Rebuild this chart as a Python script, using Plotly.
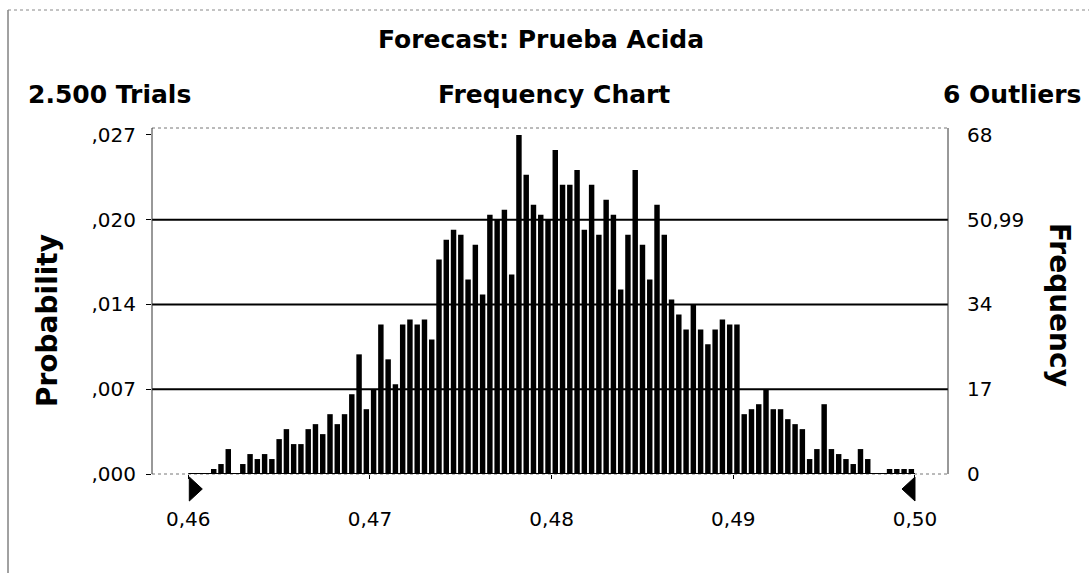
import plotly.graph_objects as go

# ---------------- data ----------------
TRIALS_LABEL = "2.500 Trials"
OUTLIERS_LABEL = "6 Outliers"
TITLE = "Forecast: Prueba Acida"
SUBTITLE = "Frequency Chart"

bin_start = 0.46
bin_width = 0.0004
frequencies = [
    0, 0, 0,
    1, 2, 5, 0, 2, 4, 3, 4, 3, 7,
    9, 6, 6, 9, 10, 8, 12, 10, 12, 16,
    24, 13, 17, 30, 23, 18, 30, 31, 30, 31,
    27, 43, 47, 49, 48, 39, 46, 36, 52, 51,
    53, 40, 68, 60, 54, 52, 51, 65, 58, 58,
    61, 49, 58, 48, 55, 52, 37, 48, 61, 46,
    39, 54, 48, 35, 32, 29, 34, 29, 26, 29,
    31, 30, 30, 12, 13, 14, 17, 13, 13, 11,
    10, 9, 3, 5, 14, 5, 4, 3, 2, 5,
    3, 0, 0, 1, 1, 1, 1,
]
x_tick_vals = [0.46, 0.47, 0.48, 0.49, 0.50]
x_tick_text = ["0,46", "0,47", "0,48", "0,49", "0,50"]
freq_tick_vals = [0, 17, 34, 51, 68]
prob_tick_text = [",000", ",007", ",014", ",020", ",027"]
freq_tick_text = ["0", "17", "34", "50,99", "68"]
range_min, range_max = 0.46, 0.50

x_centers = [bin_start + bin_width * (i + 0.5) for i in range(len(frequencies))]

# ---------------- layout geometry ----------------
W, H = 1089, 573
ML, MR, MT, MB = 152, 141, 128, 99
PW, PH = W - ML - MR, H - MT - MB
X_RANGE = [0.458002, 0.501817]
Y_RANGE = [0, 69.4]
FONT = "DejaVu Sans"


def px(p):
    return (p - ML) / PW


def py(q):
    return (H - MB - q) / PH


fig = go.Figure()
fig.add_trace(go.Bar(
    x=x_centers, y=frequencies, marker_color="black", marker_line_width=0,
    width=bin_width * 0.75, hoverinfo="x+y", showlegend=False,
))
fig.add_trace(go.Scatter(
    x=[x_centers[0]], y=[0], yaxis="y2", mode="markers",
    marker=dict(opacity=0), hoverinfo="skip", showlegend=False,
))

shapes = []
# gridlines
for v in freq_tick_vals[1:-1]:
    shapes.append(dict(type="line", xref="paper", yref="y", x0=0, x1=1, y0=v, y1=v,
                       line=dict(color="black", width=2), layer="above"))
# plot frame
shapes.append(dict(type="line", xref="paper", yref="paper", x0=0, x1=1, y0=1, y1=1,
                   line=dict(color="#777", width=1, dash="dot")))
shapes.append(dict(type="line", xref="paper", yref="paper", x0=0, x1=1, y0=0, y1=0,
                   line=dict(color="#777", width=1, dash="dot")))
shapes.append(dict(type="line", xref="paper", yref="paper", x0=0, x1=0, y0=0, y1=1,
                   line=dict(color="#333", width=1)))
shapes.append(dict(type="line", xref="paper", yref="paper", x0=1, x1=1, y0=0, y1=1,
                   line=dict(color="#333", width=1)))
# baseline over the bin range
shapes.append(dict(type="line", xref="x", yref="y", x0=range_min, x1=range_max, y0=0, y1=0,
                   line=dict(color="black", width=2), layer="above"))
# range triangles
fmin = (range_min - X_RANGE[0]) / (X_RANGE[1] - X_RANGE[0])
fmax = (range_max - X_RANGE[0]) / (X_RANGE[1] - X_RANGE[0])
shapes.append(dict(type="path", xref="x domain", yref="y domain", xsizemode="pixel",
                   ysizemode="pixel", xanchor=fmin, yanchor=0,
                   path="M 1 -3 L 1 -27 L 14 -15 Z", fillcolor="black",
                   line=dict(color="black", width=1)))
shapes.append(dict(type="path", xref="x domain", yref="y domain", xsizemode="pixel",
                   ysizemode="pixel", xanchor=fmax, yanchor=0,
                   path="M 0 -3 L 0 -27 L -13 -15 Z", fillcolor="black",
                   line=dict(color="black", width=1)))
# outer page border
shapes.append(dict(type="line", xref="paper", yref="paper", x0=px(8), x1=px(8),
                   y0=py(10), y1=py(573), line=dict(color="#444", width=1)))
shapes.append(dict(type="line", xref="paper", yref="paper", x0=px(8), x1=px(1089),
                   y0=py(10), y1=py(10), line=dict(color="#888", width=1, dash="dot")))

annotations = [
    dict(text="<b>" + TITLE + "</b>", x=px(541), y=py(40), font=dict(size=25)),
    dict(text="<b>" + TRIALS_LABEL + "</b>", x=px(26), y=py(94), xanchor="left",
         font=dict(size=25)),
    dict(text="<b>" + SUBTITLE + "</b>", x=px(554), y=py(94), font=dict(size=25)),
    dict(text="<b>" + OUTLIERS_LABEL + "</b>", x=px(1083), y=py(94), xanchor="right",
         font=dict(size=25)),
    dict(text="<b>Probability</b>", x=px(47), y=py(321), textangle=-90, font=dict(size=28)),
    dict(text="<b>Frequency</b>", x=px(1060), y=py(305), textangle=90, font=dict(size=28)),
]
for a in annotations:
    a.setdefault("xanchor", "center")
    a["yanchor"] = "middle"
    a["xref"] = "paper"
    a["yref"] = "paper"
    a["showarrow"] = False
    a["font"]["family"] = FONT
    a["font"]["color"] = "black"

fig.update_layout(
    width=W, height=H,
    margin=dict(l=ML, r=MR, t=MT, b=MB, pad=0),
    paper_bgcolor="white", plot_bgcolor="white",
    bargap=0.3,
    font=dict(family=FONT, color="black", size=20),
    xaxis=dict(range=X_RANGE, tickvals=x_tick_vals, ticktext=x_tick_text,
               ticks="outside", ticklen=4, tickcolor="black", tickwidth=1,
               showgrid=False, zeroline=False, showline=False,
               ticklabelstandoff=23, tickfont=dict(size=20, family=FONT)),
    yaxis=dict(range=Y_RANGE, tickvals=freq_tick_vals, ticktext=prob_tick_text,
               ticks="outside", ticklen=5, tickcolor="black", tickwidth=1,
               showgrid=False, zeroline=False, showline=False,
               ticklabelstandoff=6, tickfont=dict(size=20, family=FONT)),
    yaxis2=dict(range=Y_RANGE, tickvals=freq_tick_vals, ticktext=freq_tick_text,
                overlaying="y", side="right", ticks="",
                showgrid=False, zeroline=False, showline=False,
                ticklabelstandoff=18, tickfont=dict(size=20, family=FONT)),
    shapes=shapes,
    annotations=annotations,
)

fig.write_html(
    "out.html",
    config={"displayModeBar": False},
    post_script="document.body.style.margin='0';document.body.style.overflow='hidden';",
)
